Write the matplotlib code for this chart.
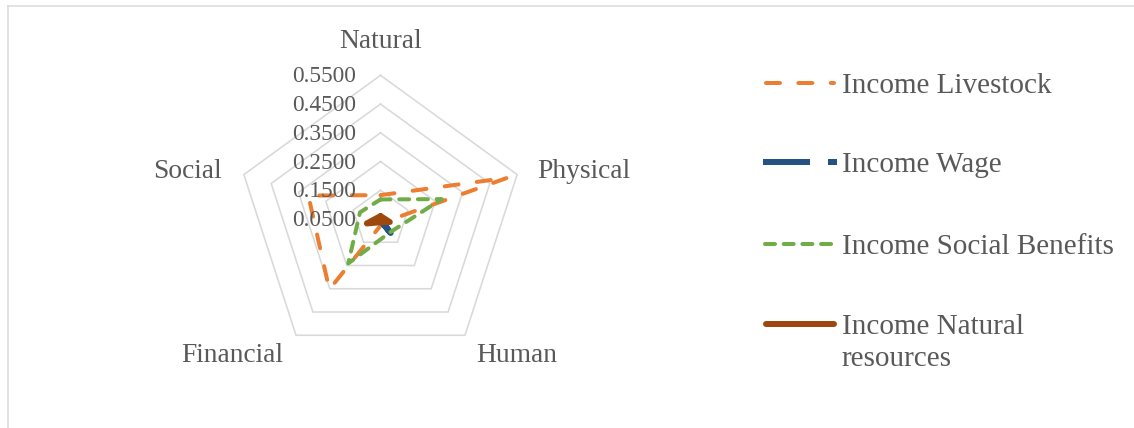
import numpy as np
import matplotlib
matplotlib.use("Agg")
import matplotlib.pyplot as plt
from matplotlib.lines import Line2D

plt.rcParams['font.family'] = ['Liberation Serif', 'DejaVu Serif']
plt.rcParams['lines.scale_dashes'] = False

# ---------------- data ----------------
categories = ["Natural", "Physical", "Human", "Financial", "Social"]
tick_values = [0.05, 0.15, 0.25, 0.35, 0.45, 0.55]
tick_labels = ["0.0500", "0.1500", "0.2500", "0.3500", "0.4500", "0.5500"]

series_names = ["Income Livestock", "Income Wage", "Income Social Benefits", "Income Natural\nresources"]
income_livestock = [0.133, 0.515, 0.065, 0.353, 0.314]
income_wage = [0.050, 0.045, 0.110, 0.050, 0.050]
income_social_benefits = [0.118, 0.274, 0.107, 0.241, 0.125]
income_natural_resources = [0.060, 0.000, 0.063, 0.063, 0.016]

# ---------------- styles ----------------
W, H = 1134, 428
DPI = 100
PT = 72.0 / DPI  # points per pixel
text_color = "#595959"
grid_color = "#D9D9D9"

colors = ["#ED7D31", "#245283", "#70AD47", "#9E480E"]
lws_px = [4.0, 6.0, 4.0, 6.0]
dash_px = [(14, 18.4), (47, 18), (10, 8.7), None]
caps = ["round", "butt", "round", "round"]
legend_x = [(766.3, 833.7), (763.3, 836.7), (765.3, 834.0), (766.3, 833.7)]
legend_y = [82.7, 162.3, 243.7, 323.7]

fig = plt.figure(figsize=(W / DPI, H / DPI), dpi=DPI)
fig.patch.set_facecolor("white")

# geometry of the radar (pixels)
cx, cy = 380.5, 219.0
scale = 287.4  # pixels per value unit
vmin = tick_values[0]

ax = fig.add_axes([0, 0, 1, 1])
ax.set_xlim(-cx / scale, (W - cx) / scale)
ax.set_ylim(-(H - cy) / scale, cy / scale)
ax.axis("off")

n = len(categories)
theta = np.pi / 2 - np.arange(n) * 2 * np.pi / n
theta_c = np.append(theta, theta[0])

# grid rings
for v in tick_values[1:]:
    r = v - vmin
    ax.plot(r * np.cos(theta_c), r * np.sin(theta_c), color=grid_color, lw=1.6 * PT,
            solid_joinstyle="miter", zorder=1)


def style(i):
    kw = dict(color=colors[i], lw=lws_px[i] * PT, solid_joinstyle="round",
              solid_capstyle="round")
    if dash_px[i] is not None:
        kw.update(linestyle=(0, (dash_px[i][0] * PT, dash_px[i][1] * PT)),
                  dash_capstyle=caps[i], dash_joinstyle="round")
    return kw


# series
all_series = [income_livestock, income_wage, income_social_benefits, income_natural_resources]
for i, vals in enumerate(all_series):
    r = np.array(vals + [vals[0]]) - vmin
    ax.plot(r * np.cos(theta_c), r * np.sin(theta_c), zorder=3 + i, **style(i))

# tick labels along the Natural axis
for v, lab in zip(tick_values, tick_labels):
    r = v - vmin
    ax.text(-24.5 / scale, r - 7.0 / scale, lab, ha="right", va="baseline",
            fontsize=16.8, color=text_color, zorder=10)


def fx(x):
    return x / W


def fy(y):
    return 1 - y / H


# category labels
cat_pos = [
    (380.5, 48, "center"),
    (537, 178, "left"),
    (476, 362, "left"),
    (283, 362, "right"),
    (222, 178, "right"),
]
for name, (x, y, ha) in zip(categories, cat_pos):
    fig.text(fx(x), fy(y), name, ha=ha, va="baseline", fontsize=19.8, color=text_color)

# legend (manual)
for i, name in enumerate(series_names):
    y = legend_y[i]
    xa, xb = legend_x[i]
    ln = Line2D([fx(xa), fx(xb)], [fy(y), fy(y)], transform=fig.transFigure, **style(i))
    fig.add_artist(ln)
    for j, t in enumerate(name.split("\n")):
        fig.text(fx(841.5), fy(y + 10 + j * 32), t, ha="left", va="baseline",
                 fontsize=21, color=text_color)

# chart border (left and top visible)
fig.add_artist(Line2D([fx(7.5), fx(7.5)], [fy(6), fy(H + 5)], transform=fig.transFigure,
                      color=grid_color, lw=1.5 * PT))
fig.add_artist(Line2D([fx(7.5), fx(W + 5)], [fy(6), fy(6)], transform=fig.transFigure,
                      color=grid_color, lw=1.5 * PT))

fig.savefig("out.png", dpi=DPI, facecolor="white")
